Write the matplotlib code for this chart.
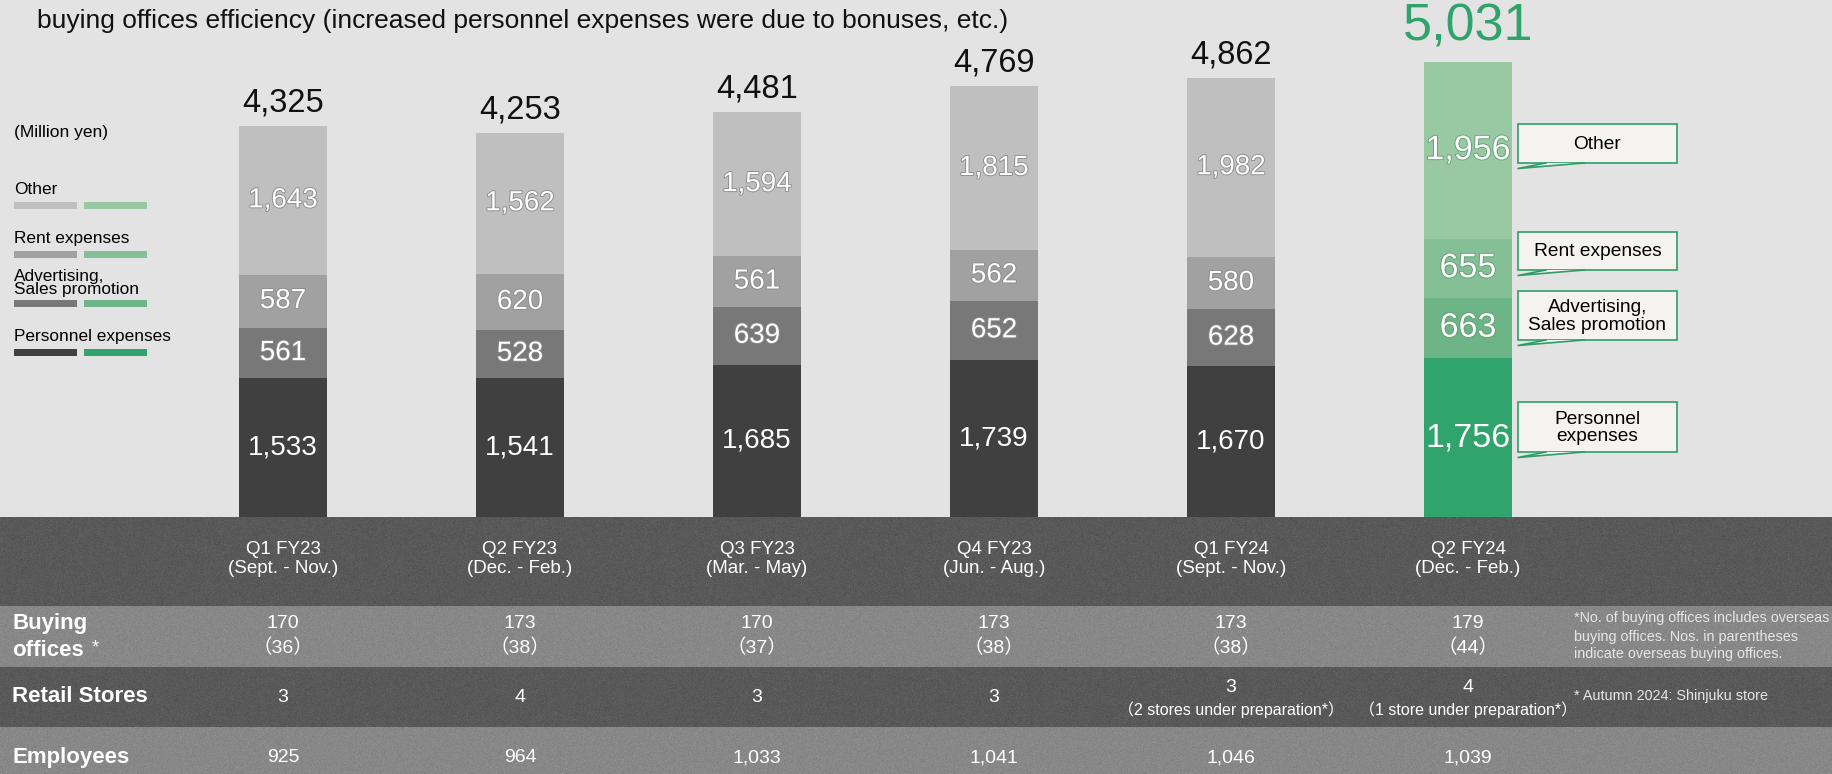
import numpy as np
import matplotlib.pyplot as plt
import matplotlib.patheffects as pe
from matplotlib import transforms
from matplotlib.patches import Rectangle, Polygon

plt.rcParams['font.family'] = ['Liberation Sans', 'Noto Sans CJK JP', 'DejaVu Sans']

# SG&A breakdown per quarter (million yen)
quarters = ['Q1 FY23\n(Sept. - Nov.)', 'Q2 FY23\n(Dec. - Feb.)', 'Q3 FY23\n(Mar. - May)',
            'Q4 FY23\n(Jun. - Aug.)', 'Q1 FY24\n(Sept. - Nov.)', 'Q2 FY24\n(Dec. - Feb.)']
personnel = [1533, 1541, 1685, 1739, 1670, 1756]
advertising = [561, 528, 639, 652, 628, 663]
rent = [587, 620, 561, 562, 580, 655]
other = [1643, 1562, 1594, 1815, 1982, 1956]
totals = [4325, 4253, 4481, 4769, 4862, 5031]

# table rows under the chart
buying_offices = [170, 173, 170, 173, 173, 179]
overseas_offices = [36, 38, 37, 38, 38, 44]
retail_stores = [3, 4, 3, 3, 3, 4]
stores_in_prep = [0, 0, 0, 0, 2, 1]
employees = [925, 964, 1033, 1041, 1046, 1039]

series_names = ['Other', 'Rent expenses', 'Advertising,\nSales promotion', 'Personnel expenses']
callout_names = ['Other', 'Rent expenses', 'Advertising,\nSales promotion', 'Personnel\nexpenses']
grays = ['#bfbfbf', '#a0a1a0', '#787878', '#404040']
greens = ['#99c9a3', '#84bf95', '#6db487', '#30a46c']

W, H = 1832, 774
BASE = 517          # pixel row of the bar baseline
PX_PER_UNIT = 0.0904
X0, STEP = 283, 237

fig = plt.figure(figsize=(W / 100, H / 100), dpi=100, facecolor='#e3e3e3')

# pixel-space axes for the background, table and legend
bg = fig.add_axes([0, 0, 1, 1])
bg.set_xlim(0, W)
bg.set_ylim(H, 0)
bg.axis('off')

# bar axes sits on the baseline
ax = fig.add_axes([0, (H - BASE) / H, 1, BASE / H], zorder=2)
ax.set_xlim(-X0 / STEP, (W - X0) / STEP)
ax.set_ylim(0, BASE / PX_PER_UNIT)
ax.axis('off')
ax.patch.set_alpha(0)

bg.text(37, 21, 'buying offices efficiency (increased personnel expenses were due to bonuses, etc.)',
        fontsize=19, va='center', ha='left', color='#111111')

x = np.arange(len(quarters))
n = len(quarters)
stack = [personnel, advertising, rent, other]
gray_cols = grays[::-1]
green_cols = greens[::-1]
bottom = np.zeros(n)
for k, vals in enumerate(stack):
    vals = np.array(vals)
    cols = [gray_cols[k]] * (n - 1) + [green_cols[k]]
    ax.bar(x, vals, bottom=bottom, width=0.371, color=cols, linewidth=0)
    for i in range(n):
        last = i == n - 1
        fx = [] if k == 0 else [pe.withStroke(linewidth=1.3, foreground='#8c8c8c' if not last else '#5f9f73')]
        ax.text(x[i], bottom[i] + vals[i] / 2, f'{vals[i]:,}', ha='center', va='center',
                color='white', fontsize=24.5 if last else 20, path_effects=fx)
    bottom += vals

for i in range(n):
    last = i == n - 1
    off = 35 if last else 23
    ax.annotate(f'{totals[i]:,}', (x[i], bottom[i]), xytext=(0, off * 0.72), textcoords='offset points',
                ha='center', va='center', fontsize=37.5 if last else 23.5,
                color='#2fa36b' if last else '#111111')

# legend on the left
bg.text(14, 132, '(Million yen)', fontsize=12.5, va='center')
leg_text_y = [190, 238, 283, 337]
leg_bar_y = [205, 254, 303, 352]
for k in range(4):
    bg.text(14, leg_text_y[k], series_names[k], fontsize=12.4, va='center', ha='left',
            linespacing=0.85)
    bg.add_patch(Rectangle((14, leg_bar_y[k] - 3.5), 63, 7, color=grays[k], lw=0))
    bg.add_patch(Rectangle((84, leg_bar_y[k] - 3.5), 63, 7, color=greens[k], lw=0))

# callouts next to the last bar
box_y = [(124, 163), (232, 270), (291, 340), (402, 452)]
bx0, bx1 = 1518, 1677
for k in range(4):
    t, b = box_y[k]
    bg.add_patch(Rectangle((bx0, t), bx1 - bx0, b - t, facecolor='#f5f3f0', edgecolor='#2e9e68', lw=1.2, zorder=3))
    bg.add_patch(Polygon([(1546, b), (bx0, b + 5.5), (1584, b)], closed=True,
                         facecolor='#f5f3f0', edgecolor='none', zorder=4))
    bg.plot([1546, bx0, 1584], [b, b + 5.5, b], color='#2e9e68', lw=1.2, zorder=5)
    bg.text((bx0 + bx1) / 2, (t + b) / 2 + 1, callout_names[k], ha='center', va='center',
            fontsize=13.8, linespacing=1.05, zorder=6)

# table bands with a bit of grain
bands = [(517, 606, '#545454'), (606, 667, '#8a8a8a'), (667, 727, '#545454'), (727, 774, '#8a8a8a')]
for top, bot, c in bands:
    bg.add_patch(Rectangle((0, top), W, bot - top, color=c, lw=0, zorder=1))
rng = np.random.default_rng(7)
grain = rng.normal(0, 1, (H - 517, W))
bg.imshow(grain, cmap='gray', extent=(0, W, H, 517), alpha=0.14, interpolation='nearest',
          aspect='auto', zorder=1.5)
bg.set_xlim(0, W)
bg.set_ylim(H, 0)

tr = transforms.blended_transform_factory(ax.transData, bg.transData)
cell = dict(transform=tr, ha='center', va='center', color='white', zorder=3)
for i in range(n):
    bg.text(x[i], 559, quarters[i], fontsize=13.5, linespacing=1.2, **cell)
    bg.text(x[i], 624, f'{buying_offices[i]}', fontsize=14, **cell)
    bg.text(x[i], 648, f'（{overseas_offices[i]}）', fontsize=14, **cell)
    if stores_in_prep[i]:
        word = 'stores' if stores_in_prep[i] > 1 else 'store'
        bg.text(x[i], 687, f'{retail_stores[i]}', fontsize=14, **cell)
        bg.text(x[i], 710, f'（{stores_in_prep[i]} {word} under preparation*）', fontsize=11.5, **cell)
    else:
        bg.text(x[i], 697, f'{retail_stores[i]}', fontsize=14, **cell)
    bg.text(x[i], 758, f'{employees[i]:,}', fontsize=14, **cell)

row_kw = dict(color='white', fontsize=16, fontweight='bold', va='center', ha='left', zorder=3)
bg.text(12, 623, 'Buying', **row_kw)
bg.text(12, 650, 'offices', **row_kw)
bg.text(92, 648, '*', color='white', fontsize=13, va='center', ha='left', zorder=3)
bg.text(12, 697, 'Retail Stores', **row_kw)
bg.text(12, 758, 'Employees', **row_kw)

note_kw = dict(color='#e6e6e6', fontsize=10.4, va='center', ha='left', zorder=3)
bg.text(1574, 618, '*No. of buying offices includes overseas', **note_kw)
bg.text(1574, 637, 'buying offices. Nos. in parentheses', **note_kw)
bg.text(1574, 654, 'indicate overseas buying offices.', **note_kw)
bg.text(1574, 696, '* Autumn 2024: Shinjuku store', **note_kw)

plt.savefig('out.png', dpi=100, facecolor=fig.get_facecolor())
